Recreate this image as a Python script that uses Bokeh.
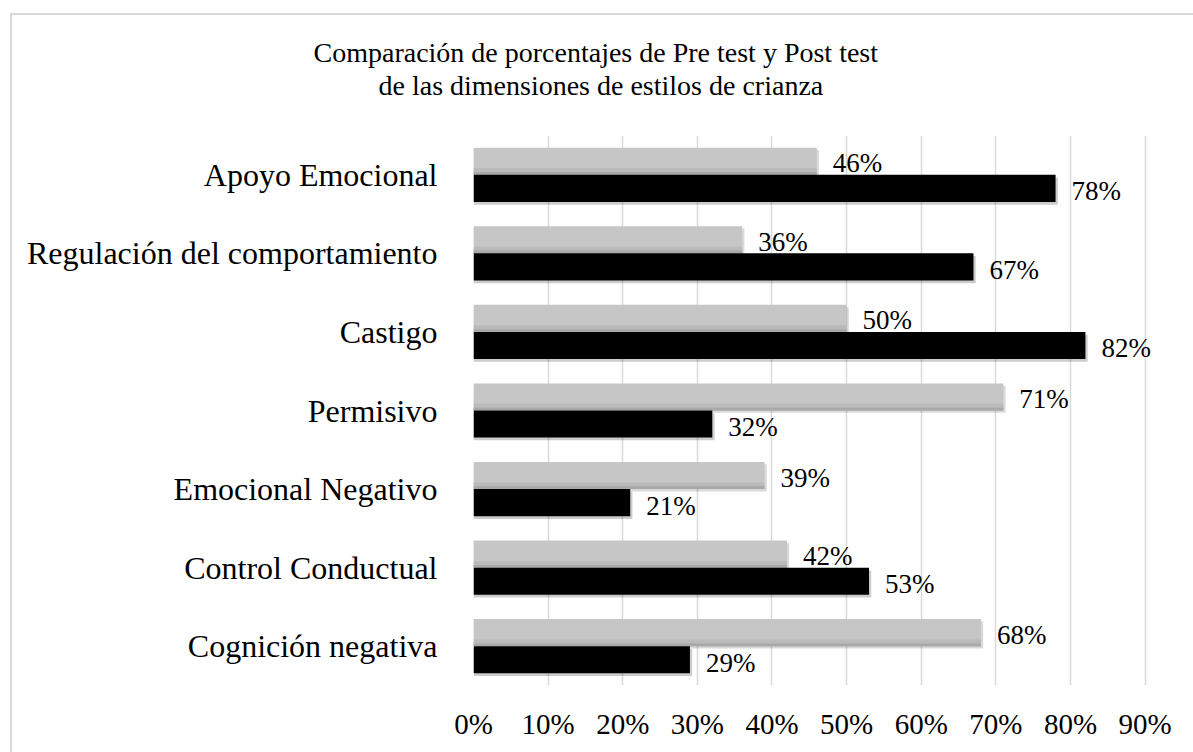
from bokeh.plotting import figure
from bokeh.models import (FactorRange, Range1d, FixedTicker, PrintfTickFormatter,
                          ColumnDataSource, Title)
from bokeh.transform import dodge
from bokeh.core.properties import value
from bokeh.embed import file_html
from bokeh.resources import INLINE

categories = ["Apoyo Emocional", "Regulación del comportamiento", "Castigo",
              "Permisivo", "Emocional Negativo", "Control Conductual", "Cognición negativa"]
pre_test = [46, 36, 50, 71, 39, 42, 68]
post_test = [78, 67, 82, 32, 21, 53, 29]
x_ticks = [0, 10, 20, 30, 40, 50, 60, 70, 80, 90]
title_lines = ["Comparación de porcentajes de Pre test y Post test",
               "de las dimensiones de estilos de crianza"]

FONT = "Liberation Serif"
BORDER = "#d9d9d9"

src = ColumnDataSource(dict(
    cat=categories,
    pre=pre_test,
    post=post_test,
    pre_sh=[v + 0.3 for v in pre_test],
    post_sh=[v + 0.3 for v in post_test],
    pre_lbl=[f"{v}%" for v in pre_test],
    post_lbl=[f"{v}%" for v in post_test],
))

p = figure(
    y_range=FactorRange(factors=categories[::-1], range_padding=0),
    x_range=Range1d(0, 93),
    frame_width=694, frame_height=550,
    min_border_left=473, min_border_right=26,
    min_border_top=135, min_border_bottom=67,
    output_backend="svg", toolbar_location=None,
    background_fill_color="white", border_fill_color=None,
)
p.outline_line_color = None
# chart-area border (left and top edges visible; right/bottom fall outside the window)
p.styles = {
    "background": (f"linear-gradient({BORDER},{BORDER}) 10px 13px / 2px 100% no-repeat, "
                   f"linear-gradient({BORDER},{BORDER}) 10px 13px / 100% 2px no-repeat, white"),
}

# shadows
p.hbar(y=dodge("cat", 0.1725 - 0.03, range=p.y_range), left=0, right="pre_sh",
       height=0.345, source=src, fill_color="black", fill_alpha=0.15, line_color=None)
p.hbar(y=dodge("cat", -0.1725 - 0.035, range=p.y_range), left=0, right="post_sh",
       height=0.345, source=src, fill_color="black", fill_alpha=0.2, line_color=None)

# pre test (gray)
p.hbar(y=dodge("cat", 0.1725, range=p.y_range), left=0, right="pre",
       height=0.345, source=src, fill_color="#c6c6c6", line_color=None)
p.hbar(y=dodge("cat", 0.1725 - 0.13, range=p.y_range), left=0, right="pre",
       height=0.085, source=src, fill_color="#bababa", line_color=None)
p.hbar(y=dodge("cat", 0.1725 - 0.155, range=p.y_range), left=0, right="pre",
       height=0.035, source=src, fill_color="#a8a8a8", line_color=None)
# post test (black)
p.hbar(y=dodge("cat", -0.1725, range=p.y_range), left=0, right="post",
       height=0.345, source=src, fill_color="black", line_color=None)

# data labels
p.text(x="pre", y=dodge("cat", 0.1725, range=p.y_range), text="pre_lbl", source=src,
       x_offset=16, y_offset=2, text_align="left", text_baseline="middle",
       text_font=value(FONT), text_font_size="27px", text_color="black")
p.text(x="post", y=dodge("cat", -0.1725, range=p.y_range), text="post_lbl", source=src,
       x_offset=16, y_offset=3, text_align="left", text_baseline="middle",
       text_font=value(FONT), text_font_size="27px", text_color="black")

# axes
p.xaxis.ticker = FixedTicker(ticks=x_ticks)
p.xaxis.formatter = PrintfTickFormatter(format="%d%%")
p.xaxis.axis_line_color = None
p.xaxis.major_tick_line_color = None
p.xaxis.minor_tick_line_color = None
p.xaxis.major_tick_out = 0
p.xaxis.major_tick_in = 0
p.xaxis.major_label_standoff = 22
p.xaxis.major_label_text_font = FONT
p.xaxis.major_label_text_font_size = "29px"
p.xaxis.major_label_text_color = "black"

p.yaxis.axis_line_color = None
p.yaxis.major_tick_line_color = None
p.yaxis.minor_tick_line_color = None
p.yaxis.major_tick_out = 0
p.yaxis.major_tick_in = 0
p.yaxis.major_label_standoff = 36
p.yaxis.major_label_text_font = FONT
p.yaxis.major_label_text_font_size = "32px"
p.yaxis.major_label_text_color = "black"

p.xgrid.grid_line_color = "#d9d9d9"
p.xgrid.grid_line_width = 1.5
p.ygrid.grid_line_color = None

# spacer between plot area and title
p.add_layout(Title(text=" ", standoff=32, text_font_size="1px"), "above")
# two-line title, lines centred on the whole chart (added closest-first)
p.add_layout(Title(text=title_lines[1], align="left", offset=-95, standoff=0,
                   text_font=FONT, text_font_size="28px", text_font_style="normal",
                   text_color="black"), "above")
p.add_layout(Title(text=title_lines[0], align="left", offset=-160, standoff=0,
                   text_font=FONT, text_font_size="28px", text_font_style="normal",
                   text_color="black"), "above")

open("out.html", "w").write(file_html(p, INLINE))
